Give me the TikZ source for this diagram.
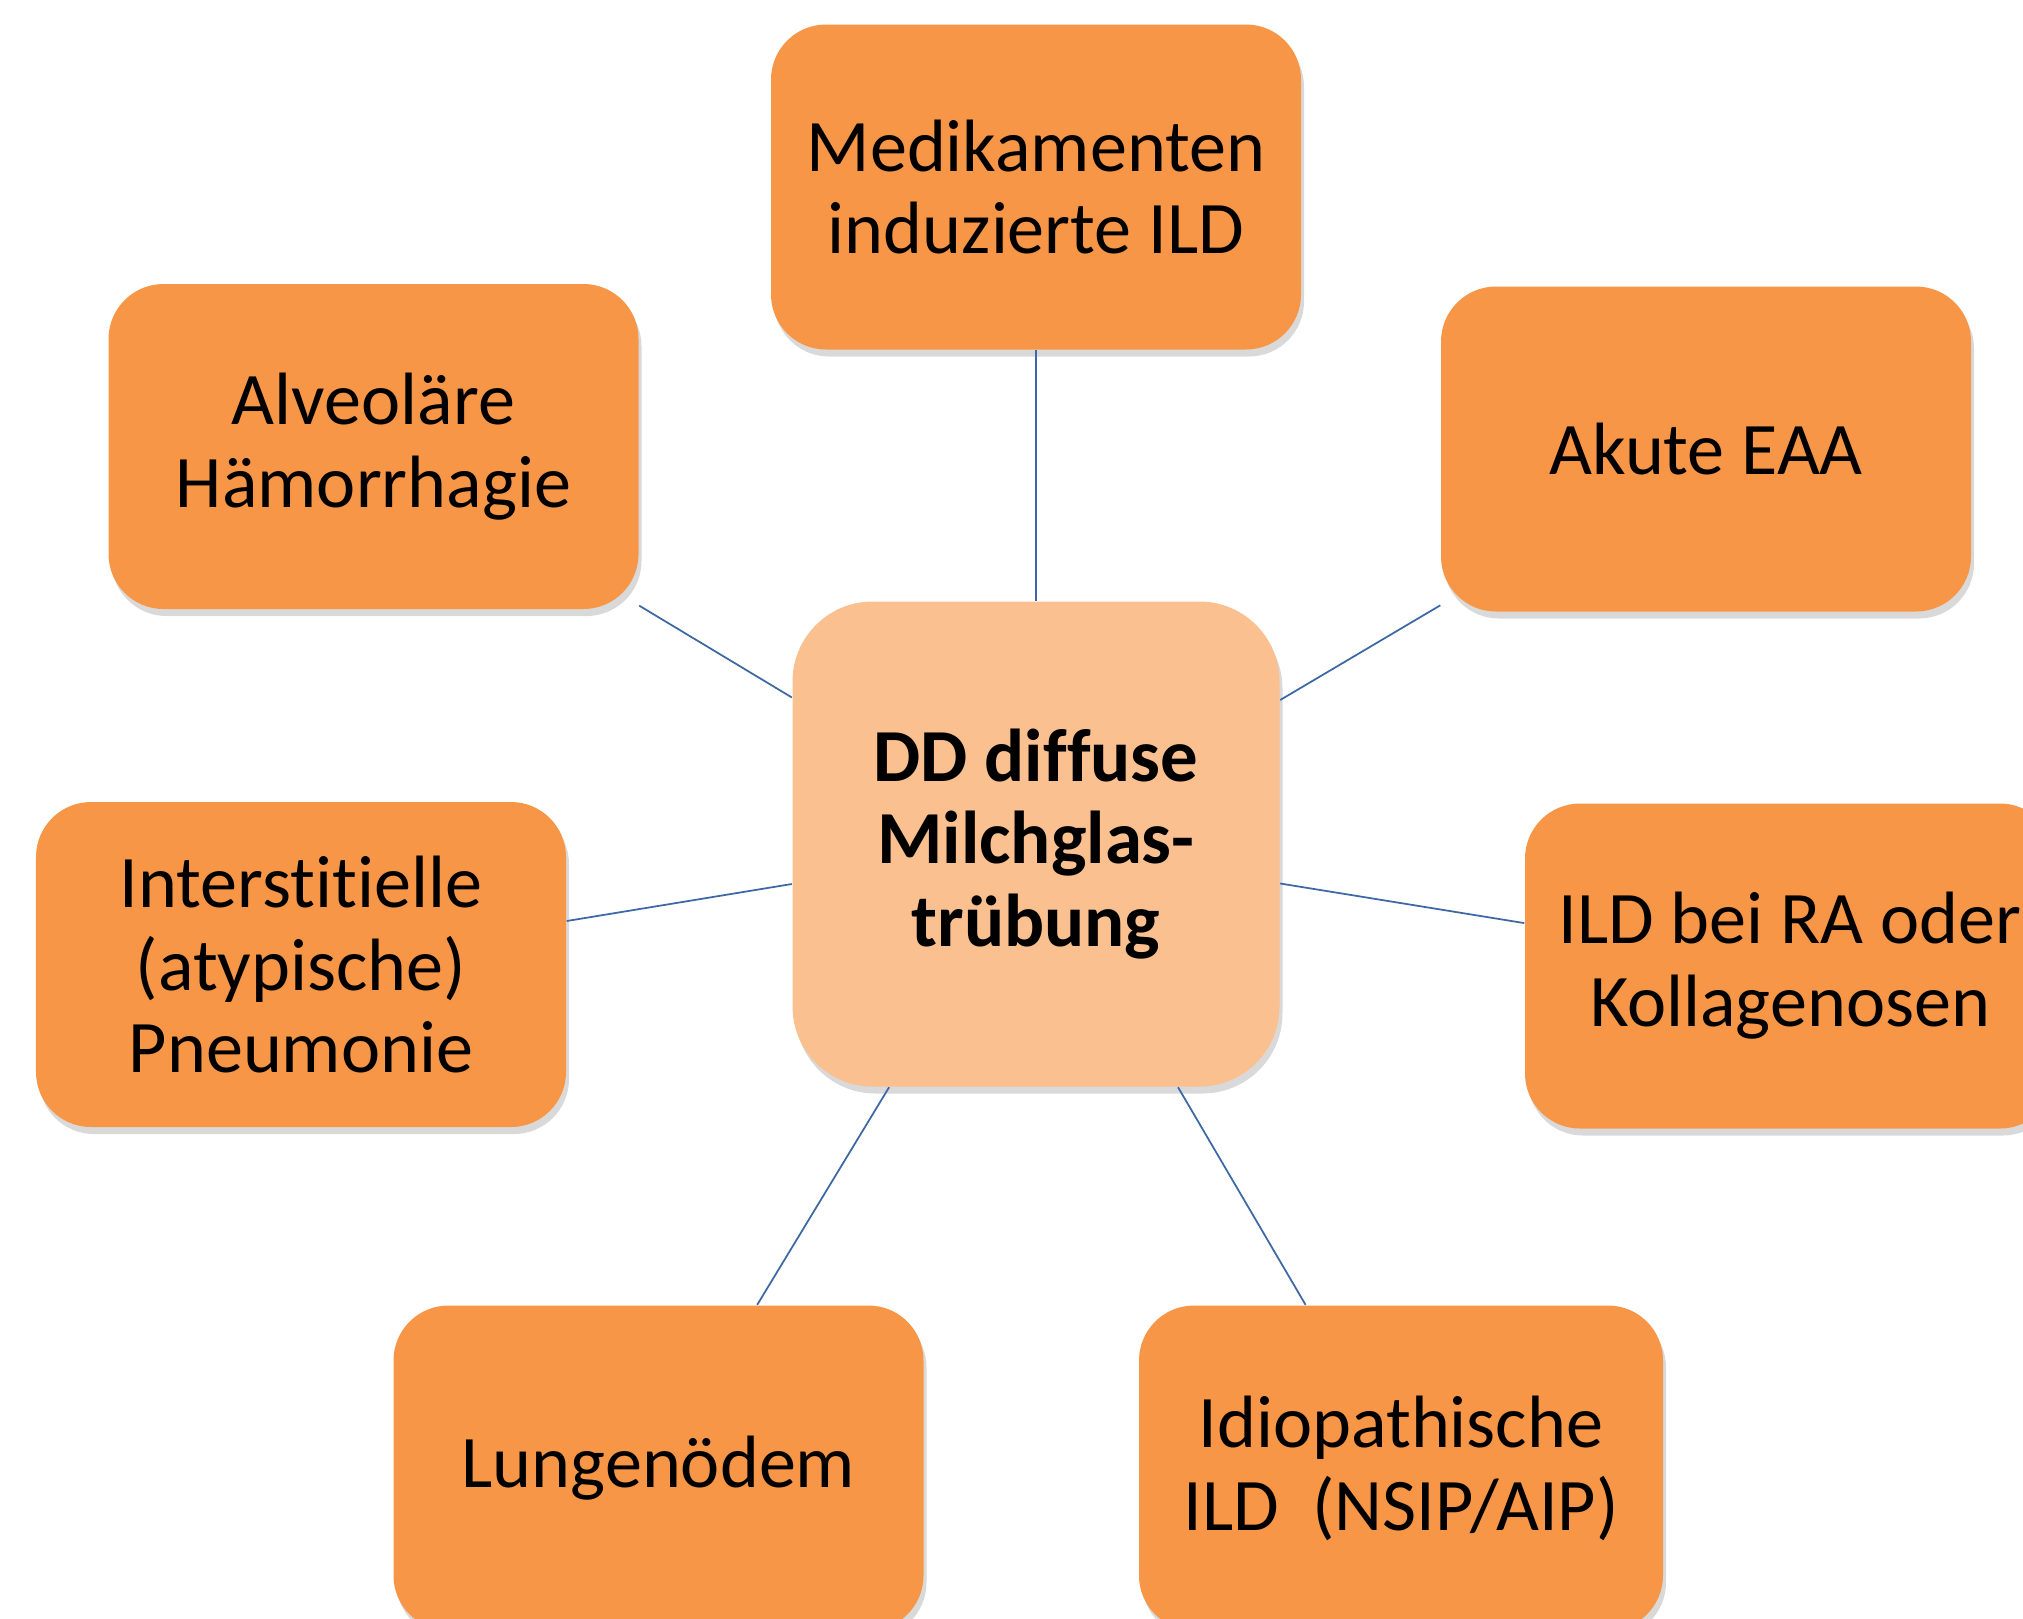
\documentclass[tikz,border=0pt]{standalone}
\usepackage{fontspec}
\setmainfont{Carlito}[Ligatures=NoCommon]
\usepackage{tikz}
\usetikzlibrary{shapes,arrows,positioning,shadows}
\definecolor{boxorange}{RGB}{247,150,70}
\definecolor{hubpeach}{RGB}{250,192,144}
\definecolor{linkblue}{RGB}{62,104,165}

\begin{document}
\begin{tikzpicture}[
	box/.style={shape=rectangle, rounded corners=0.55cm, fill=boxorange, minimum width=5.3cm, minimum height=3.25cm, inner sep=0pt, align=center, font=\fontsize{21.1}{23.6}\selectfont, drop shadow={shadow xshift=0.3mm, shadow yshift=-0.7mm, fill=black, opacity=0.15}},
	hub/.style={box, rounded corners=0.8cm, fill=hubpeach, minimum width=4.87cm, minimum height=4.85cm, font=\fontsize{21.3}{23.4}\selectfont\bfseries},
	every edge/.style={draw=linkblue, line width=0.5pt}]
	\useasboundingbox (0,0) rectangle (20.23,-16.18);
	\clip (0,0) rectangle (20.23,-16.18);
	
	\node[hub] (0) at (10.36,-8.44) {DD diffuse\\Milchglas-\\trübung};
	\node[box] (1) at (10.36,-1.87) {Medikamenten\\induzierte ILD};
	\node[box] (2) at (17.06,-4.49) {Akute EAA};
	\node[box] (3) at (17.90,-9.66) {ILD bei RA oder\\Kollagenosen};
	\node[box, minimum width=5.24cm] (4) at (14.01,-14.68) {Idiopathische\\ILD\ \ (NSIP/AIP)};
	\node[box] (5) at (6.585,-14.68) {Lungenödem};
	\node[box] (6) at (3.01,-9.645) {Interstitielle\\(atypische)\\Pneumonie};
	\node[box] (7) at (3.735,-4.465) {Alveoläre\\Hämorrhagie};
	
	\path [-]
	(0) edge (1)
	(0) edge (2)
	(0) edge (3)
	(0) edge (4)
	(0) edge (5)
	(0) edge (6)
	(0) edge (7);
\end{tikzpicture}
\end{document}
